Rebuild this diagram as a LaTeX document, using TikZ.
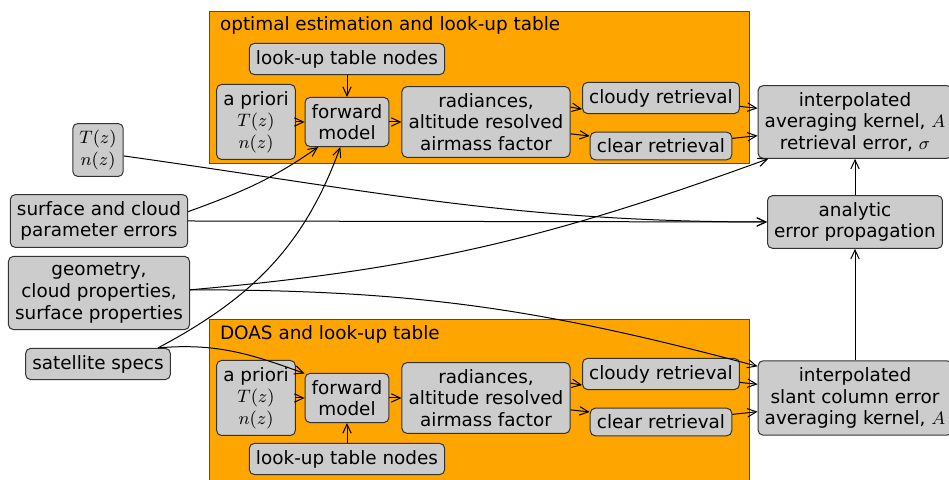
\documentclass[tikz,border=0pt]{standalone}
\usepackage{fontspec}
\setmainfont{DejaVu Sans}
\usetikzlibrary{arrows.meta}
\definecolor{panel}{HTML}{FFA500}
\definecolor{boxgray}{HTML}{CCCCCC}

\begin{document}
\begin{tikzpicture}[x=0.5pt,y=0.5pt,
  font=\fontsize{9.2}{10.8}\selectfont,
  box/.style={draw=black!80,fill=boxgray,rounded corners=2.5pt,align=center,line width=0.5pt},
  stage/.style={draw=red,fill=panel,line width=0.5pt},
  conn/.style={-{Straight Barb[length=4.5pt,width=4.2pt]},line width=0.5pt}]
\useasboundingbox (0,0) rectangle (949,480);
% panels
\draw[stage] (209,316) rectangle (749,468);
\draw[stage] (209,-5) rectangle (749,160);
\node[anchor=west] (oetitle) at (213,455) {optimal estimation and look-up table};
\node[anchor=west] (doastitle) at (213,146) {DOAS and look-up table};
% optimal estimation
\node[box] (lutA) at (347,421) {look-up table nodes};
\node[box] (aprioriA) at (256,358) {a priori\\$T(z)$\\$n(z)$};
\node[box] (fmA) at (347,358) {forward\\model};
\node[box] (radA) at (486,358) {radiances,\\altitude resolved\\airmass factor};
\node[box] (cloudyA) at (661,382) {cloudy retrieval};
\node[box] (clearA) at (661,334) {clear retrieval};
\node[box] (interpA) at (855,358) {interpolated\\averaging kernel, $A$\\retrieval error, $\sigma$};
% DOAS
\node[box] (lutB) at (347,21) {look-up table nodes};
\node[box] (aprioriB) at (256,82) {a priori\\$T(z)$\\$n(z)$};
\node[box] (fmB) at (347,82) {forward\\model};
\node[box] (radB) at (486,82) {radiances,\\altitude resolved\\airmass factor};
\node[box] (cloudyB) at (661,106) {cloudy retrieval};
\node[box] (clearB) at (661,58) {clear retrieval};
\node[box] (slant) at (855,82) {interpolated\\slant column error\\averaging kernel, $A$};
% inputs and error propagation
\node[box] (tz) at (98,330) {$T(z)$\\$n(z)$};
\node[box] (surf) at (99,259) {surface and cloud\\parameter errors};
\node[box] (geom) at (99,187) {geometry,\\cloud properties,\\surface properties};
\node[box] (sat) at (98,116) {satellite specs};
\node[box] (analytic) at (855,258) {analytic\\error propagation};
% chain top
\draw[conn] (lutA) -- (fmA);
\draw[conn] (aprioriA) -- (fmA);
\draw[conn] (fmA) -- (radA);
\draw[conn] (radA.10) -- (cloudyA.188);
\draw[conn] (radA.-8) -- (clearA.172);
\draw[conn] (cloudyA) -- (interpA.172);
\draw[conn] (clearA) -- (interpA.188);
% chain bottom
\draw[conn] (lutB) -- (fmB);
\draw[conn] (aprioriB) -- (fmB);
\draw[conn] (fmB) -- (radB);
\draw[conn] (radB.10) -- (cloudyB.188);
\draw[conn] (radB.-8) -- (clearB.172);
\draw[conn] (cloudyB) -- (slant.172);
\draw[conn] (clearB) -- (slant.188);
% inputs
\draw[conn] (tz.-13) to[out=-8,in=180] (analytic.west);
\draw[conn] (surf.east) -- (analytic.west);
\draw[conn] (surf.6) to[out=20,in=215] (fmA.221);
\draw[conn] (sat.15) to[out=28,in=250] (fmA.255);
\draw[conn] (sat.15) to[out=5,in=160] (fmB.150);
\draw[conn] (geom.2) to[out=5,in=200] (interpA.203);
\draw[conn] (geom.2) to[out=0,in=165] (slant.162);
\draw[conn] (slant) -- (analytic);
\draw[conn] (analytic) -- (interpA);
\end{tikzpicture}
\end{document}
